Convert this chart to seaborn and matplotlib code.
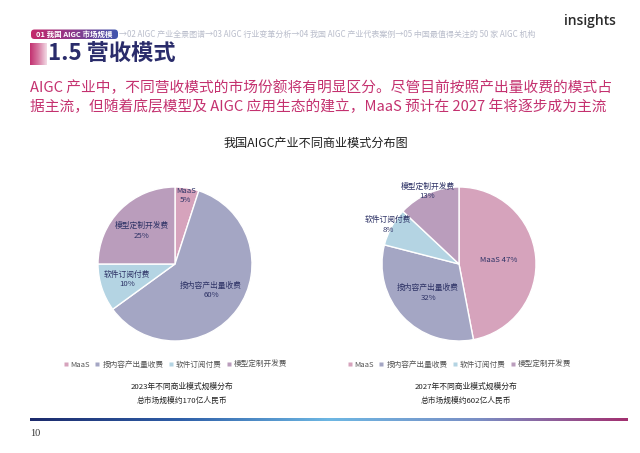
import numpy as np
import matplotlib
matplotlib.use("Agg")
import matplotlib.pyplot as plt
import seaborn as sns
from matplotlib.patches import FancyBboxPatch
from matplotlib.lines import Line2D
from matplotlib.colors import LinearSegmentedColormap

# ---------------- data ----------------
categories = ["MaaS", "按内容产出量收费", "软件订阅付费", "模型定制开发费"]
share_2023 = [5, 60, 10, 25]
share_2027 = [47, 32, 8, 13]
caption_2023 = ["2023年不同商业模式规模分布", "总市场规模约170亿人民币"]
caption_2027 = ["2027年不同商业模式规模分布", "总市场规模约602亿人民币"]
chart_title = "我国AIGC产业不同商业模式分布图"
page_title = "1.5 营收模式"
tag_text = "01 我国 AIGC 市场规模"
nav_text = "→02 AIGC 产业全景图谱→03 AIGC 行业变革分析→04 我国 AIGC 产业代表案例→05 中国最值得关注的 50 家 AIGC 机构"
lead_lines = ["AIGC 产业中，不同营收模式的市场份额将有明显区分。尽管目前按照产出量收费的模式占",
              "据主流，但随着底层模型及 AIGC 应用生态的建立，MaaS 预计在 2027 年将逐步成为主流"]
page_number = "10"

# ---------------- style ----------------
sns.set_theme(style="white")
plt.rcParams["font.family"] = ["Noto Sans CJK SC", "DejaVu Sans"]
colors = ["#D6A3BC", "#A4A6C4", "#B4D4E3", "#BA9DBC"]
label_col = "#2E3366"
W, H = 640, 453
fig = plt.figure(figsize=(W / 100, H / 100), dpi=100)
fig.patch.set_facecolor("white")

bg = fig.add_axes([0, 0, 1, 1], zorder=0)
bg.set_xlim(0, W)
bg.set_ylim(H, 0)
bg.axis("off")

def gradient(ax, x0, x1, y0, y1, cols, clip=None, z=1):
    cmap = LinearSegmentedColormap.from_list("g", cols)
    grad = np.linspace(0, 1, 256).reshape(1, -1)
    im = ax.imshow(grad, cmap=cmap, extent=(x0, x1, y1, y0), aspect="auto",
                   interpolation="bicubic", zorder=z)
    if clip is not None:
        im.set_clip_path(clip)
    return im

# header tag (pill)
pill = FancyBboxPatch((31, 29.5), 87, 9.5, boxstyle="round,pad=0,rounding_size=3.5",
                      facecolor="none", edgecolor="none", transform=bg.transData)
bg.add_patch(pill)
gradient(bg, 31, 118, 29.5, 39, ["#C4286B", "#8A3C8C", "#3F55AE"], clip=pill, z=2)
bg.text(74.5, 34.3, tag_text, color="white", fontsize=5.4, fontweight="bold",
        va="center", ha="center", zorder=3)
bg.text(119, 34.3, nav_text, color="#B9BDCB", fontsize=5.75, va="center", ha="left")

# title with gradient block
gradient(bg, 30, 47, 43, 65, ["#C2306F", "#D77AA3", "#F3DCE6"], z=1)
bg.text(48, 54, page_title, color="#2A2C6B", fontsize=16, fontweight="bold",
        va="center", ha="left", zorder=3)

# logo
bg.text(564, 21, "insights", color="#2B2B2B", fontsize=10, va="center", ha="left",
        fontweight="semibold", family=["Open Sans", "DejaVu Sans"])

# lead text
for i, line in enumerate(lead_lines):
    bg.text(30, 88 + i * 19, line, color="#C4316F", fontsize=10.6, va="center", ha="left")

# chart title
bg.text(316, 143, chart_title, color="#1E1E1E", fontsize=8.7, va="center", ha="center",
        fontweight="medium")

# footer line
gradient(bg, 30, 628, 418.5, 421.5, ["#1C2A6B", "#2F5FA8", "#6DB7E3", "#7A8FC5", "#A23070"], z=1)
bg.text(30, 434, page_number, color="#333333", fontsize=7.5, va="center", ha="left",
        family=["Liberation Serif", "DejaVu Serif"])

# ---------------- pies ----------------
R = 77
def pie_panel(cx, cy, values, label_r, one_line, caption):
    ax = fig.add_axes([(cx - R) / W, (H - cy - R) / H, 2 * R / W, 2 * R / H], zorder=2)
    wedges, _ = ax.pie(values, colors=colors, startangle=90, counterclock=False,
                       wedgeprops=dict(edgecolor="white", linewidth=1.0))
    ax.set_xlim(-1, 1)
    ax.set_ylim(-1, 1)
    ax.set_aspect("equal")
    ax.axis("off")
    for w, name, v, r, ol in zip(wedges, categories, values, label_r, one_line):
        ang = np.deg2rad((w.theta1 + w.theta2) / 2)
        sep = " " if ol else "\n"
        ax.text(r * np.cos(ang), r * np.sin(ang), f"{name}{sep}{v}%", ha="center",
                va="center", fontsize=5.6, color=label_col, linespacing=1.25,
                clip_on=False)
    handles = [Line2D([], [], marker="s", linestyle="none", markersize=3.2,
                      markerfacecolor=c, markeredgecolor="none") for c in colors]
    fig.legend(handles, categories, loc="center", bbox_to_anchor=(cx / W, 1 - 365 / H),
               ncol=4, frameon=False, fontsize=5.5, labelcolor="#555555",
               handlelength=0.7, handletextpad=0.3, columnspacing=0.6)
    for i, c in enumerate(caption):
        bg.text(cx + 7, 387 + i * 14, c, ha="center", va="center", fontsize=5.6,
                color="#222222")

pie_panel(175, 264, share_2023, [0.9, 0.58, 0.66, 0.61], [False] * 4, caption_2023)
pie_panel(459, 264, share_2027, [0.52, 0.55, 1.05, 1.03], [True, False, False, False], caption_2027)

fig.savefig("out.png", dpi=100, facecolor="white")
